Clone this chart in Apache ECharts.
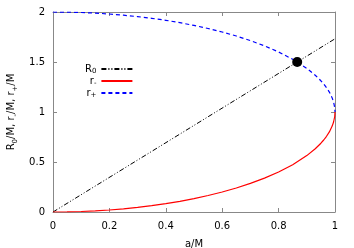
<!DOCTYPE html>
<html><head><meta charset="utf-8">
<script src="https://cdn.jsdelivr.net/npm/echarts@6/dist/echarts.min.js"></script>
<style>html,body{margin:0;padding:0;background:#fff}#c{width:354px;height:248px}</style>
</head><body><div id="c"></div>
<script>
const aVals   = [0, 0.05, 0.1, 0.15, 0.2, 0.25, 0.3, 0.35, 0.4, 0.45, 0.5, 0.55, 0.6, 0.65, 0.7, 0.75, 0.8, 0.85, 0.9, 0.93, 0.95, 0.96, 0.97, 0.98, 0.99, 0.995, 0.999, 1];
const rMinus  = [0, 0.001, 0.005, 0.011, 0.020, 0.032, 0.046, 0.063, 0.083, 0.107, 0.134, 0.165, 0.200, 0.240, 0.286, 0.339, 0.400, 0.473, 0.564, 0.632, 0.688, 0.720, 0.757, 0.801, 0.859, 0.900, 0.955, 1];
const rPlus   = [2, 1.999, 1.995, 1.989, 1.980, 1.968, 1.954, 1.937, 1.917, 1.893, 1.866, 1.835, 1.800, 1.760, 1.714, 1.661, 1.600, 1.527, 1.436, 1.368, 1.312, 1.280, 1.243, 1.199, 1.141, 1.100, 1.045, 1];
const r0A     = [0, 1];
const r0Vals  = [0, 1.732];
const dotA    = [0.866];
const dotY    = [1.5];
const xTicks  = [0, 0.2, 0.4, 0.6, 0.8, 1];
const yTicks  = [0, 0.5, 1, 1.5, 2];

const pair = (xs, ys) => xs.map((x, i) => [x, ys[i]]);
const FONT = 'DejaVu Sans';
const axisCol = '#888';
const chart = echarts.init(document.getElementById('c'));
const commonAxis = {
  axisLine: { show: true, onZero: false, lineStyle: { color: axisCol, width: 1 } },
  axisTick: { show: true, inside: true, length: 4, lineStyle: { color: axisCol } },
  splitLine: { show: false }
};
chart.setOption({
  animation: false,
  textStyle: { fontFamily: FONT },
  grid: { left: 53, right: 19, top: 12, bottom: 36, containLabel: false, outerBoundsMode: 'none' },
  legend: {
    orient: 'vertical', left: 85, top: 63, align: 'right',
    itemWidth: 31, itemHeight: 8, itemGap: 0, padding: 0,
    itemStyle: { color: 'rgba(0,0,0,0)', borderColor: 'rgba(0,0,0,0)', borderWidth: 0 },
    textStyle: { fontFamily: FONT, fontSize: 10, color: '#000', lineHeight: 11, padding: [0, 0, 0, 0],
      rich: { s: { fontSize: 7, lineHeight: 11, padding: [5, 0, 0, 0], fontFamily: FONT } } },
    formatter: n => n === 'R0' ? 'R{s|0}' : n === 'r-' ? 'r{s|-}' : 'r{s|+}',
    data: ['R0', 'r-', 'r+']
  },
  xAxis: [
    Object.assign({ type: 'value', min: 0, max: 1, interval: 0.2, position: 'bottom',
      name: 'a/M', nameLocation: 'middle', nameGap: 27,
      nameTextStyle: { fontFamily: FONT, fontSize: 10, color: '#000' },
      axisLabel: { fontFamily: FONT, fontSize: 10, color: '#000', margin: 9,
        formatter: v => String(+v.toFixed(1)) } }, commonAxis),
    Object.assign({ type: 'value', min: 0, max: 1, interval: 0.2, position: 'top',
      axisLabel: { show: false } }, commonAxis)
  ],
  yAxis: [
    Object.assign({ type: 'value', min: 0, max: 2, interval: 0.5, position: 'left',
      name: '{n|R}{s|0}{n|/M, r}{s|-}{n|/M, r}{s|+}{n|/M}', nameLocation: 'middle', nameGap: 34,
      nameTextStyle: { fontFamily: FONT, fontSize: 10, color: '#000',
        rich: { n: { fontSize: 10, fontFamily: FONT }, s: { fontSize: 7, fontFamily: FONT, padding: [6, 0, 0, 0] } } },
      axisLabel: { fontFamily: FONT, fontSize: 10, color: '#000', margin: 8 } }, commonAxis),
    Object.assign({ type: 'value', min: 0, max: 2, interval: 0.5, position: 'right',
      axisLabel: { show: false } }, commonAxis)
  ],
  series: [
    { name: 'R0', type: 'line', data: pair(r0A, r0Vals), showSymbol: false, symbol: 'none',
      itemStyle: { color: '#000' },
      lineStyle: { color: '#000', width: 1, type: [5, 2, 1, 2, 1, 2] } },
    { name: 'r-', type: 'line', data: pair(aVals, rMinus), showSymbol: false, symbol: 'none',
      itemStyle: { color: '#ff0000' },
      lineStyle: { color: '#ff0000', width: 1.2 } },
    { name: 'r+', type: 'line', data: pair(aVals, rPlus), showSymbol: false, symbol: 'none',
      itemStyle: { color: '#0000ff' },
      lineStyle: { color: '#0000ff', width: 1.2, type: [4, 3] } },
    { type: 'scatter', data: pair(dotA, dotY), symbolSize: 10, itemStyle: { color: '#000', opacity: 1 }, z: 5 }
  ]
});
</script></body></html>
